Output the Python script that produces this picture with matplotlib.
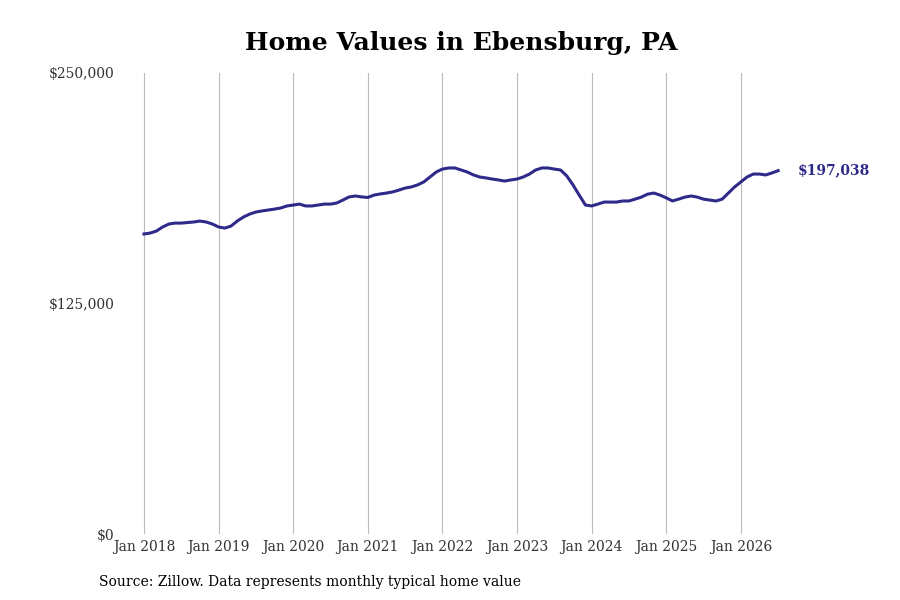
import matplotlib
matplotlib.use('Agg')
import matplotlib.pyplot as plt

# typical home value, thousands of dollars, monthly from Jan 2018
values_k = [
    162.7, 163.2, 164.3, 166.5, 168.1, 168.6, 168.6, 168.9, 169.2, 169.7, 169.2, 168.1,
    166.5, 165.9, 167.0, 169.7, 171.9, 173.5, 174.6, 175.2, 175.7, 176.2, 176.8, 177.9,
    178.4, 178.9, 177.9, 177.9, 178.4, 178.9, 178.9, 179.5, 181.1, 182.8, 183.3, 182.8,
    182.5, 183.8, 184.4, 184.9, 185.5, 186.5, 187.6, 188.2, 189.3, 190.9, 193.6, 196.3,
    197.9, 198.5, 198.5, 197.4, 196.3, 194.7, 193.6, 193.1, 192.5, 192.0, 191.4, 192.0,
    192.5, 193.6, 195.2, 197.4, 198.5, 198.5, 197.9, 197.4, 194.2, 189.3, 183.8, 178.4,
    177.9, 178.9, 180.0, 180.0, 180.0, 180.6, 180.6, 181.6, 182.7, 184.3, 184.9, 183.8,
    182.3, 180.6, 181.6, 182.7, 183.3, 182.7, 181.6, 181.1, 180.6, 181.6, 184.9, 188.2,
    190.9, 193.6, 195.2, 195.2, 194.7, 195.8, 197.038,
]
year_labels = ['Jan 2018', 'Jan 2019', 'Jan 2020', 'Jan 2021', 'Jan 2022',
               'Jan 2023', 'Jan 2024', 'Jan 2025', 'Jan 2026']
y_ticks = [0, 125000, 250000]
y_labels = ['$0', '$125,000', '$250,000']

color = '#2e2a8a'
plt.rcParams['font.family'] = ['DejaVu Serif']

fig = plt.figure(figsize=(9, 6), dpi=100)
ax = fig.add_axes([120 / 900, 66 / 600, 660 / 900, 461 / 600])

months = list(range(len(values_k)))
vals = [v * 1000 for v in values_k]
ax.plot(months, vals, color=color, lw=2.2)

ax.set_xlim(-3.86, 102.3)
ax.set_ylim(0, 250000)
ax.set_xticks([12 * i for i in range(len(year_labels))])
ax.set_xticklabels(year_labels, fontsize=10, color='#333333')
ax.set_yticks(y_ticks)
ax.set_yticklabels(y_labels, fontsize=10, color='#333333')
ax.tick_params(length=0, pad=4)
ax.grid(axis='x', color='#bbbbbb', lw=0.8)
ax.set_axisbelow(True)
for s in ax.spines.values():
    s.set_visible(False)

ax.annotate(f'${vals[-1]:,.0f}', (months[-1], vals[-1]), xytext=(14, 0),
            textcoords='offset points', va='center', ha='left',
            fontsize=10, fontweight='bold', color=color, annotation_clip=False)

fig.text(0.512, 0.928, 'Home Values in Ebensburg, PA', ha='center', va='center',
         fontsize=18, fontweight='bold')
fig.text(0.11, 0.03, 'Source: Zillow. Data represents monthly typical home value',
         ha='left', va='center', fontsize=10)

fig.savefig('out.png', dpi=100)
